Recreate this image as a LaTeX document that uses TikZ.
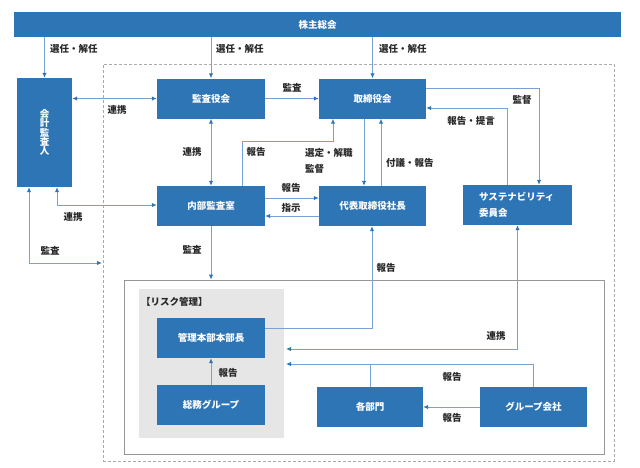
\documentclass[tikz,border=0pt]{standalone}
\usepackage{fontspec}
\setmainfont{Noto Sans CJK JP}
\usetikzlibrary{arrows.meta}
\definecolor{boxblue}{RGB}{46,117,182}
\definecolor{lineblue}{RGB}{120,162,210}
\definecolor{riskgray}{RGB}{230,230,230}
\definecolor{framegray}{RGB}{150,150,150}
\definecolor{dashgray}{RGB}{170,170,170}
\definecolor{labelgray}{RGB}{40,40,40}
\tikzset{bt/.tip={Latex[length=5pt,width=4.5pt,color=boxblue]}}

\begin{document}
\begin{tikzpicture}[x=1pt,y=-1pt,
    txt/.style={font=\fontsize{9.5}{12}\selectfont\bfseries},
    box/.style={rectangle,fill=boxblue,text=white,txt,inner sep=0pt,minimum width=108pt,minimum height=40pt},
    lab/.style={text=labelgray,txt,inner sep=0pt},
    conn/.style={draw=lineblue,line width=1pt,-bt},
    both/.style={draw=lineblue,line width=1pt,bt-bt},
    plain/.style={draw=lineblue,line width=1pt}]

    \useasboundingbox (0,0) rectangle (640,467);

    % frames %
    \node[draw=dashgray,line width=0.8pt,dash pattern=on 3pt off 2pt,minimum width=511pt,minimum height=397pt] (outer) at (358.5,262.5) {};
    \node[draw=framegray,line width=0.8pt,minimum width=480pt,minimum height=174pt] (area) at (364,367) {};
    \node[fill=riskgray,minimum width=145pt,minimum height=149pt] (risk) at (211.5,363.5) {};
    \node[lab,anchor=west] (risklab) at (141,302) {【リスク管理】};

    \begin{scope}[every node/.style={box}]
        \node[minimum width=607pt,minimum height=25pt] (kabu) at (317.5,24.5) {株主総会};
        \node[minimum width=55pt,minimum height=109pt,align=center,font=\fontsize{9.5}{9.4}\selectfont\bfseries] (kaikei) at (44.5,132.5) {会\\計\\監\\査\\人};
        \node (kansa) at (211,98.5) {監査役会};
        \node[minimum width=107pt] (tori) at (372.5,98.5) {取締役会};
        \node (naibu) at (211,206) {内部監査室};
        \node[minimum width=107pt] (daihyo) at (372.5,206) {代表取締役社長};
        \node[minimum width=109pt,text width=77pt,align=left,font=\fontsize{9.5}{16}\selectfont\bfseries] (sustain) at (517.5,205) {サステナビリティ\\委員会};
        \node (kanri) at (211,338) {管理本部本部長};
        \node (somu) at (211,405) {総務グループ};
        \node[minimum width=106pt] (kakubu) at (370,407) {各部門};
        \node[minimum width=107pt] (group) at (533.5,407) {グループ会社};
    \end{scope}

    \coordinate (kansaend) at (102,263);
    \coordinate (renkeiend) at (286,349);
    \coordinate (hokokuend) at (286,364);

    % connectors %
    \draw[conn] (kabu.south -| kaikei.north) -- (kaikei.north);
    \draw[conn] (kabu.south -| kansa.north) -- (kansa.north);
    \draw[conn] (kabu.south -| tori.north) -- (tori.north);
    \draw[both] (kaikei.east |- kansa.west) -- (kansa.west);
    \draw[conn] (kansa.east) -- (tori.west);
    \draw[both] (kansa.south) -- (naibu.north);
    \draw[conn] ([xshift=31pt]naibu.north) -- ++(0,-44) -| ([xshift=-39.5pt]tori.south);
    \draw[conn] ([xshift=-8.5pt]tori.south) -- ([xshift=-8.5pt]daihyo.north);
    \draw[conn] ([xshift=8.5pt]daihyo.north) -- ([xshift=8.5pt]tori.south);
    \draw[conn] ([yshift=8pt]naibu.east) -- ([yshift=8pt]daihyo.west);
    \draw[conn] ([yshift=-10pt]daihyo.west) -- ([yshift=-10pt]naibu.east);
    \draw[conn] ([yshift=10.5pt]tori.east) -| ([xshift=21.5pt]sustain.north);
    \draw[conn] ([xshift=-10.5pt]sustain.north) |- ([yshift=-9.5pt]tori.east);
    \draw[both] ([xshift=12.5pt]kaikei.south) |- ([yshift=1pt]naibu.west);
    \draw[both] ([xshift=-15.5pt]kaikei.south) |- (kansaend);
    \draw[conn] (naibu.south) -- (naibu.south |- area.north);
    \draw[conn] ([yshift=10pt]kanri.east) -| ([xshift=-0.5pt]daihyo.south);
    \draw[both] (sustain.south) |- (renkeiend);
    \draw[conn] (group.north) |- (hokokuend);
    \draw[plain] (kakubu.north) -- (kakubu.north |- hokokuend);
    \draw[conn] (group.west) -- (kakubu.east);
    \draw[conn] (somu.north) -- (kanri.south);

    % labels %
    \node[lab,anchor=west] (l1) at (50,49) {選任・解任};
    \node[lab,anchor=west] (l2) at (216,49) {選任・解任};
    \node[lab,anchor=west] (l3) at (379,49) {選任・解任};
    \node[lab] (l4) at (117,110) {連携};
    \node[lab] (l5) at (292,88) {監査};
    \node[lab] (l6) at (192,152) {連携};
    \node[lab] (l7) at (256,152) {報告};
    \node[lab,anchor=west,align=left,font=\fontsize{9.5}{16}\selectfont\bfseries] (l8) at (305,161) {選定・解職\\監督};
    \node[lab,anchor=west] (l9) at (386,163) {付議・報告};
    \node[lab] (l10) at (291,188) {報告};
    \node[lab] (l11) at (291,208) {指示};
    \node[lab] (l12) at (522,100) {監督};
    \node[lab] (l13) at (471,121) {報告・提言};
    \node[lab] (l14) at (73,217) {連携};
    \node[lab] (l15) at (50,251) {監査};
    \node[lab] (l16) at (192,250) {監査};
    \node[lab] (l17) at (386,268) {報告};
    \node[lab] (l18) at (496,336) {連携};
    \node[lab] (l19) at (452,377) {報告};
    \node[lab] (l20) at (452,418) {報告};
    \node[lab] (l21) at (228,373) {報告};

\end{tikzpicture}
\end{document}
